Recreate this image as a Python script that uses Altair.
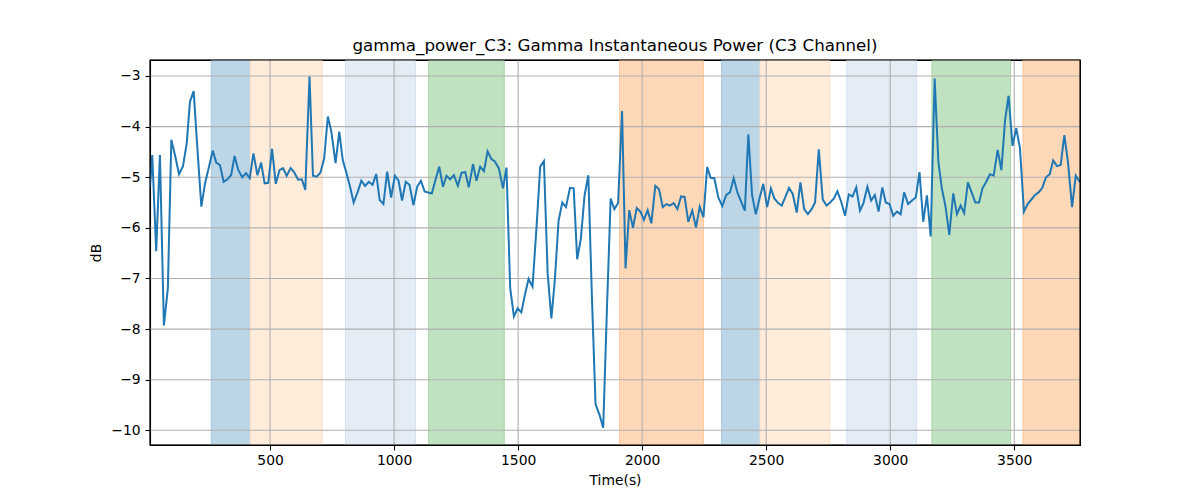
import altair as alt
import pandas as pd

# ---- line data ----
times = [16, 25, 41, 56, 72, 88, 102, 118, 133, 149,
         164, 177, 192, 207, 223, 238, 254, 269, 283, 298,
         313, 328, 343, 357, 372, 388, 403, 418, 433, 449,
         464, 478, 493, 508, 523, 538, 552, 567, 583, 598,
         613, 628, 642, 659, 673, 688, 703, 718, 733, 747,
         764, 779, 793, 807, 822, 837, 854, 868, 883, 898,
         913, 928, 942, 957, 972, 988, 1003, 1018, 1032, 1047,
         1062, 1078, 1093, 1108, 1123, 1137, 1152, 1167, 1182, 1197,
         1211, 1226, 1241, 1257, 1272, 1287, 1301, 1318, 1332, 1347,
         1362, 1377, 1392, 1406, 1422, 1439, 1453, 1468, 1483, 1498,
         1513, 1527, 1542, 1558, 1574, 1589, 1604, 1619, 1634, 1648,
         1663, 1678, 1693, 1709, 1724, 1738, 1753, 1768, 1783, 1797,
         1812, 1829, 1843, 1858, 1873, 1888, 1903, 1919, 1933, 1948,
         1963, 1978, 1993, 2007, 2022, 2037, 2053, 2068, 2083, 2098,
         2112, 2127, 2142, 2157, 2171, 2186, 2202, 2217, 2232, 2247,
         2262, 2276, 2291, 2307, 2323, 2339, 2354, 2369, 2384, 2399,
         2414, 2428, 2443, 2458, 2473, 2488, 2504, 2519, 2533, 2548,
         2563, 2578, 2592, 2607, 2623, 2638, 2653, 2668, 2683, 2697,
         2712, 2728, 2743, 2758, 2773, 2787, 2802, 2818, 2833, 2848,
         2863, 2878, 2892, 2908, 2923, 2938, 2953, 2968, 2982, 2997,
         3012, 3027, 3042, 3056, 3072, 3088, 3103, 3118, 3133, 3148,
         3163, 3179, 3194, 3208, 3223, 3238, 3254, 3269, 3284, 3298,
         3313, 3328, 3343, 3358, 3372, 3387, 3402, 3417, 3433, 3448,
         3463, 3477, 3493, 3508, 3523, 3539, 3554, 3569, 3584, 3598,
         3613, 3628, 3643, 3657, 3672, 3687, 3702, 3717, 3733, 3748,
         3765]

power_db = [-5.19, -4.56, -6.46, -4.56, -7.93, -7.19, -4.26, -4.59, -4.94, -4.78,
            -4.33, -3.51, -3.30, -4.43, -5.58, -5.12, -4.79, -4.47, -4.71, -4.76,
            -5.09, -5.04, -4.96, -4.58, -4.86, -5.00, -4.92, -5.02, -4.53, -4.96,
            -4.71, -5.12, -5.11, -4.44, -5.13, -4.86, -4.82, -4.97, -4.82, -4.91,
            -5.05, -5.04, -5.25, -3.01, -4.97, -4.99, -4.91, -4.63, -3.80, -4.10,
            -4.72, -4.10, -4.66, -4.90, -5.18, -5.50, -5.28, -5.07, -5.17, -5.09,
            -5.15, -4.94, -5.45, -5.53, -4.89, -5.40, -4.97, -5.07, -5.46, -5.09,
            -5.15, -5.55, -5.19, -5.07, -5.28, -5.30, -5.32, -5.05, -4.79, -5.19,
            -4.97, -5.04, -4.96, -5.17, -4.91, -4.90, -5.20, -4.74, -5.07, -4.79,
            -4.88, -4.49, -4.64, -4.69, -4.82, -5.22, -4.81, -7.19, -7.75, -7.59,
            -7.67, -7.33, -7.01, -7.16, -6.00, -4.79, -4.68, -6.90, -7.79, -7.03,
            -5.86, -5.50, -5.59, -5.21, -5.22, -6.62, -6.21, -5.35, -4.96, -7.30,
            -9.48, -9.71, -9.95, -7.60, -5.42, -5.63, -5.51, -3.69, -6.80, -5.65,
            -6.00, -5.61, -5.68, -5.84, -5.65, -5.91, -5.17, -5.24, -5.59, -5.53,
            -5.56, -5.51, -5.63, -5.38, -5.39, -5.88, -5.66, -5.99, -5.58, -5.79,
            -4.80, -5.01, -5.02, -5.40, -5.57, -5.35, -5.30, -5.02, -5.30, -5.48,
            -5.66, -4.15, -5.35, -5.73, -5.42, -5.13, -5.59, -5.22, -5.42, -5.51,
            -5.56, -5.38, -5.21, -5.33, -5.70, -5.10, -5.63, -5.73, -5.63, -5.50,
            -4.45, -5.44, -5.56, -5.50, -5.42, -5.28, -5.48, -5.76, -5.34, -5.38,
            -5.20, -5.66, -5.51, -5.19, -5.46, -5.35, -5.68, -5.20, -5.50, -5.53,
            -5.76, -5.68, -5.73, -5.30, -5.53, -5.46, -5.40, -4.90, -5.88, -5.36,
            -6.17, -3.05, -4.69, -5.22, -5.58, -6.14, -5.32, -5.73, -5.56, -5.71,
            -5.10, -5.30, -5.50, -5.50, -5.22, -5.09, -4.94, -4.97, -4.46, -4.86,
            -3.87, -3.39, -4.38, -4.03, -4.43, -5.68, -5.53, -5.44, -5.35, -5.30,
            -5.21, -5.00, -4.94, -4.67, -4.78, -4.76, -4.17, -4.72, -5.59, -4.97,
            -5.10]

# ---- shaded intervals ----
band_start = [263, 420, 804, 1139, 1909, 2320, 2475, 2825, 3168, 3535]
band_end = [418, 710, 1086, 1444, 2247, 2475, 2756, 3106, 3485, 3765]
band_kind = ["S1", "S2", "S3", "S4", "S5", "S1", "S2", "S3", "S4", "S5"]

kind_names = ["S1", "S2", "S3", "S4", "S5"]
# translucent tab colours composited on white
kind_fill = ["#bcd6e8", "#ffecdb", "#e4ecf6", "#c0e2c0", "#ffd8b7"]
kind_edge = ["#a6c8e1", "#ffe0c4", "#d4e2f1", "#a9d7a9", "#ffc797"]

x_ticks = [500, 1000, 1500, 2000, 2500, 3000, 3500]
y_ticks = [-10, -9, -8, -7, -6, -5, -4, -3]

line_df = pd.DataFrame({"t": times, "db": power_db})
band_df = pd.DataFrame({"start": band_start, "end": band_end, "kind": band_kind})
xg_df = pd.DataFrame({"v": x_ticks})
yg_df = pd.DataFrame({"v": y_ticks})

W, H = 930, 385
xscale = alt.Scale(domain=[16, 3765], nice=False, zero=False)
yscale = alt.Scale(domain=[-10.29, -2.684], nice=False, zero=False)

FS = 13.9

x_axis = alt.Axis(values=x_ticks, grid=False, title="Time(s)", format="d",
                  tickSize=4.9, labelPadding=3.5, labelFontSize=FS, titleFontSize=FS,
                  titleFontWeight="normal", titlePadding=6, tickColor="black",
                  domainColor="black", labelColor="black", titleColor="black",
                  tickWidth=1.1, domainWidth=1.1,
                  labelFlush=False, labelOverlap=False)
y_axis = alt.Axis(values=y_ticks, grid=False, title="dB",
                  labelExpr="replace(format(datum.value, 'd'), '-', '\u2212')",
                  tickSize=4.9, labelPadding=4.9, labelFontSize=FS, titleFontSize=FS,
                  titleFontWeight="normal", titlePadding=7, tickColor="black",
                  domainColor="black", labelColor="black", titleColor="black",
                  tickWidth=1.1, domainWidth=1.1,
                  labelFlush=False, labelOverlap=False)

bands = alt.Chart(band_df).mark_rect(strokeWidth=1, clip=True).encode(
    x=alt.X("start:Q", scale=xscale, axis=x_axis),
    x2="end:Q",
    y=alt.value(0),
    y2=alt.value(H),
    color=alt.Color("kind:N", scale=alt.Scale(domain=kind_names, range=kind_fill), legend=None),
    stroke=alt.Stroke("kind:N", scale=alt.Scale(domain=kind_names, range=kind_edge), legend=None),
)

xgrid = alt.Chart(xg_df).mark_rule(color="#b0b0b0", strokeWidth=1.1).encode(
    x=alt.X("v:Q", scale=xscale, axis=x_axis)
)
ygrid = alt.Chart(yg_df).mark_rule(color="#b0b0b0", strokeWidth=1.1).encode(
    y=alt.Y("v:Q", scale=yscale, axis=y_axis)
)

line = alt.Chart(line_df).mark_line(color="#1f77b4", strokeWidth=2, clip=True).encode(
    x=alt.X("t:Q", scale=xscale, axis=x_axis),
    y=alt.Y("db:Q", scale=yscale, axis=y_axis),
)

# axes frame drawn on top of everything
frame = alt.Chart(pd.DataFrame({"f": [0]})).mark_rect(
    fill="transparent", stroke="black", strokeWidth=1.1
).encode(
    x=alt.value(0), x2=alt.value(W), y=alt.value(0), y2=alt.value(H)
)

chart = alt.layer(bands, xgrid, ygrid, line, frame).properties(
    width=W, height=H,
    title=alt.TitleParams("gamma_power_C3: Gamma Instantaneous Power (C3 Channel)",
                          fontSize=16.7, fontWeight="normal", baseline="alphabetic",
                          offset=8, dy=16, anchor="middle", color="black"),
    autosize=alt.AutoSizeParams(type="none"),
    padding={"left": 142, "top": 52, "right": 112, "bottom": 47},
).configure(font="DejaVu Sans").configure_view(stroke="black", strokeWidth=1.1)

chart.save("out.html", embed_options={"renderer": "svg", "actions": False})
